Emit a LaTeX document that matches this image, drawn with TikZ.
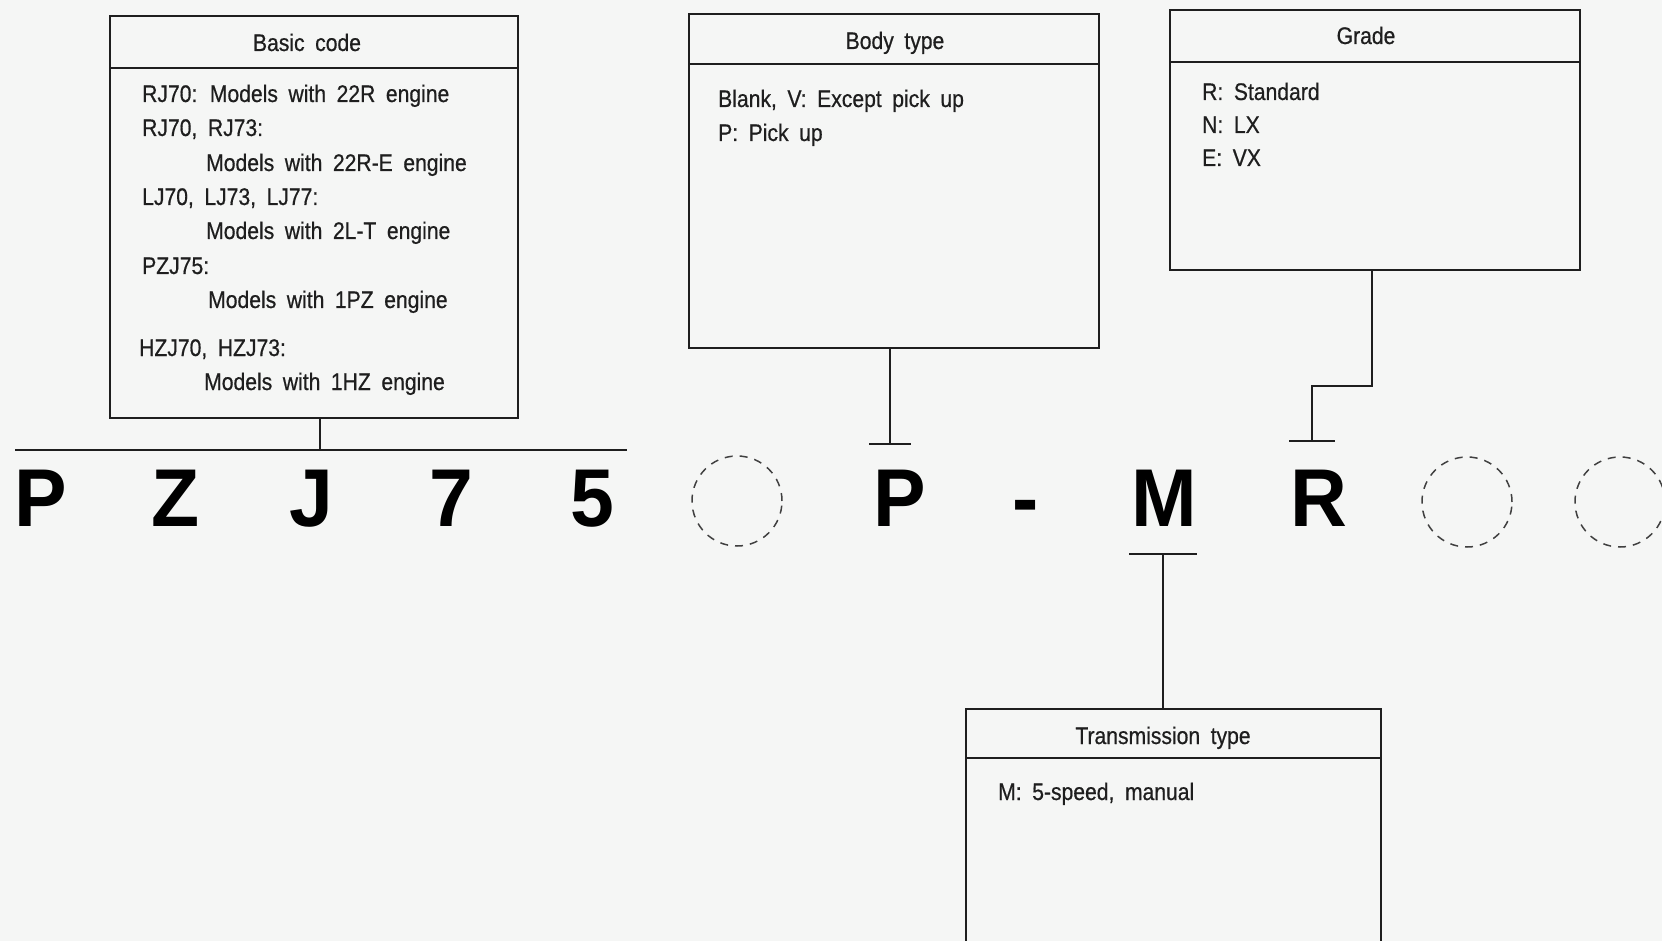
\documentclass[tikz,border=0pt]{standalone}
\usepackage{fontspec}
\setmainfont{Liberation Sans}[FakeStretch=0.88, WordSpace=1.8, FakeBold=0.6]
\newfontfamily\bigfont{Liberation Sans}[FakeStretch=0.96]
\usetikzlibrary{calc}
\definecolor{bg}{RGB}{245,246,245}
\definecolor{ink}{RGB}{30,30,30}
\begin{document}
\begin{tikzpicture}[x=1pt,y=-1pt,
  box/.style={draw=ink, line width=1.7pt, anchor=north west, inner sep=0pt},
  txt/.style={anchor=base west, inner sep=0pt, text=ink, font=\fontsize{24}{28}\selectfont},
  ttl/.style={anchor=base, inner sep=0pt, text=ink, font=\fontsize{24}{28}\selectfont},
  big/.style={anchor=base, inner sep=0pt, text=black, font=\bigfont\bfseries\fontsize{82}{90}\selectfont},
  ring/.style={circle, draw=ink!85, line width=1.5pt, dash pattern=on 8pt off 7pt, minimum size=90pt, inner sep=0pt},
  wire/.style={draw=ink, line width=1.7pt}]
\fill[bg] (0,0) rectangle (1662,941);
\useasboundingbox (0,0) rectangle (1662,941);
\clip (0,0) rectangle (1662,941);

% ---- boxes
\node[box, minimum width=408pt, minimum height=402pt] (basic) at (109,15) {};
\node[box, minimum width=410pt, minimum height=334pt] (body) at (688,13) {};
\node[box, minimum width=410pt, minimum height=260pt] (grade) at (1169,9) {};
\node[box, minimum width=415pt, minimum height=300pt] (trans) at (965,708) {};

\draw[wire] ($(basic.north west)+(0,53)$) -- ($(basic.north east)+(0,53)$);
\draw[wire] ($(body.north west)+(0,51)$) -- ($(body.north east)+(0,51)$);
\draw[wire] ($(grade.north west)+(0,53)$) -- ($(grade.north east)+(0,53)$);
\draw[wire] ($(trans.north west)+(0,50)$) -- ($(trans.north east)+(0,50)$);

% ---- titles
\node[ttl] (tbasic) at (307,51) {Basic code};
\node[ttl] (tbody) at (895,49) {Body type};
\node[ttl] (tgrade) at (1366,44) {Grade};
\node[ttl] (ttrans) at (1163,744) {Transmission type};

% ---- basic code text
\node[txt] (b1) at (142,102) {RJ70: Models with 22R engine};
\node[txt] (b2) at (142,136) {RJ70, RJ73:};
\node[txt] (b3) at (206,171) {Models with 22R-E engine};
\node[txt] (b4) at (142,205) {LJ70, LJ73, LJ77:};
\node[txt] (b5) at (206,239) {Models with 2L-T engine};
\node[txt] (b6) at (142,274) {PZJ75:};
\node[txt] (b7) at (208,308) {Models with 1PZ engine};
\node[txt] (b8) at (139,356) {HZJ70, HZJ73:};
\node[txt] (b9) at (204,390) {Models with 1HZ engine};

% ---- body type text
\node[txt] (p1) at (718,107) {Blank, V: Except pick up};
\node[txt] (p2) at (718,141) {P: Pick up};

% ---- grade text
\node[txt] (g1t) at (1202,100) {R: Standard};
\node[txt] (g2t) at (1202,133) {N: LX};
\node[txt] (g3t) at (1202,166) {E: VX};

% ---- transmission text
\node[txt] (m1) at (998,800) {M: 5-speed, manual};

% ---- big code letters
\node[big] (lP) at (41,526) {P};
\node[big] (lZ) at (176,526) {Z};
\node[big] (lJ) at (311,526) {J};
\node[big] (l7) at (451,526) {7};
\node[big] (l5) at (592,526) {5};
\node[ring] (c1) at (737,501) {};
\node[big] (lP2) at (900,526) {P};
\node[big] (ldash) at (1026,526) {-};
\node[big] (lM) at (1164,526) {M};
\node[big] (lR) at (1319,526) {R};
\node[ring] (c2) at (1467,502) {};
\node[ring] (c3) at (1620,502) {};

% ---- connectors
\coordinate (bj) at (320,450);
\coordinate (hl) at (15,450);
\coordinate (hr) at (627,450);
\draw[wire] (basic.south -| bj) -- (bj);
\draw[wire] (hl) -- (hr);

\coordinate (bp) at (890,444);
\draw[wire] (body.south -| bp) -- (bp);
\draw[wire] ($(bp)+(-21,0)$) -- ($(bp)+(21,0)$);

\coordinate (gk) at (1372,386);
\coordinate (gt) at (1312,441);
\draw[wire] (grade.south -| gk) -- (gk) -- (gk -| gt) -- (gt);
\draw[wire] ($(gt)+(-23,0)$) -- ($(gt)+(23,0)$);

\coordinate (tm) at (1163,554);
\draw[wire] (tm) -- (trans.north -| tm);
\draw[wire] ($(tm)+(-34,0)$) -- ($(tm)+(34,0)$);
\end{tikzpicture}
\end{document}
